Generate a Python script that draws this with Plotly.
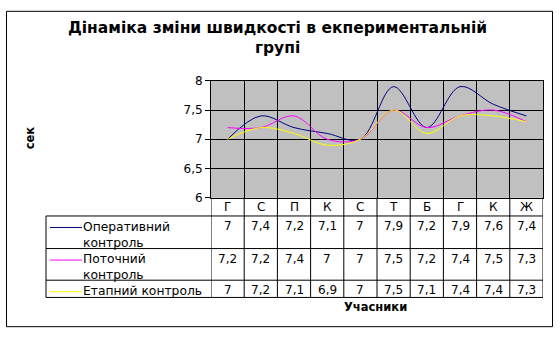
import plotly.graph_objects as go

# ---- data ----
categories = ["Г", "С", "П", "К", "С", "Т", "Б", "Г", "К", "Ж"]
operatyvnyi = [7, 7.4, 7.2, 7.1, 7, 7.9, 7.2, 7.9, 7.6, 7.4]
potochnyi = [7.2, 7.2, 7.4, 7, 7, 7.5, 7.2, 7.4, 7.5, 7.3]
etapnyi = [7, 7.2, 7.1, 6.9, 7, 7.5, 7.1, 7.4, 7.4, 7.3]
series_names = ["Оперативний<br>контроль", "Поточний<br>контроль", "Етапний контроль"]
series_colors = ["#000080", "#FF00FF", "#FFFF00"]
y_tickvals = [6, 6.5, 7, 7.5, 8]
y_ticktext = ["6", "6,5", "7", "7,5", "8"]

W, H = 560, 338
FONT = "DejaVu Sans"


def px(x):
    return x / W


def py(y):
    return 1 - y / H


def fmt(v):
    return ("%g" % v).replace(".", ",")


# plot area pixel geometry
PL, PR, PT, PB = 211, 543, 77, 199
TABLE_L = 46
ROW_LINES = [218, 252, 285, 303]
ROW_TEXT_Y = [228.5, 262.5, 295]
LEGEND_LINE_Y = [230, 264, 297]

fig = go.Figure()
xs = list(range(len(categories)))
all_series = [operatyvnyi, potochnyi, etapnyi]
for name, vals, col in zip(series_names, all_series, series_colors):
    fig.add_trace(go.Scatter(
        x=xs, y=vals, mode="lines", name=name.replace("<br>", " "),
        line=dict(color=col, width=1, shape="spline", smoothing=1),
        showlegend=False, hoverinfo="skip"))

shapes = []
# outer border
shapes.append(dict(type="rect", xref="paper", yref="paper",
                   x0=px(6.5), x1=px(552.5), y0=py(333.5), y1=py(4.5),
                   line=dict(color="black", width=1), fillcolor="rgba(0,0,0,0)",
                   layer="below"))
# vertical lines in table (category boundaries)
for i in range(len(categories) + 1):
    b = i - 0.5
    shapes.append(dict(type="line", xref="x", yref="paper",
                       x0=b, x1=b, y0=py(ROW_LINES[-1]), y1=py(PB),
                       line=dict(color="black", width=1)))
# horizontal table lines
for yl in ROW_LINES:
    shapes.append(dict(type="line", xref="paper", yref="paper",
                       x0=px(TABLE_L), x1=px(PR), y0=py(yl), y1=py(yl),
                       line=dict(color="black", width=1)))
# left table edge
shapes.append(dict(type="line", xref="paper", yref="paper",
                   x0=px(TABLE_L), x1=px(TABLE_L), y0=py(ROW_LINES[0]), y1=py(ROW_LINES[-1]),
                   line=dict(color="black", width=1)))
# legend key lines
for yl, col in zip(LEGEND_LINE_Y, series_colors):
    shapes.append(dict(type="line", xref="paper", yref="paper",
                       x0=px(50), x1=px(82), y0=py(yl), y1=py(yl),
                       line=dict(color=col, width=1)))

ann = []
tf = dict(family=FONT, size=12, color="black")
lf = dict(family=FONT, size=12.3, color="black")
# category labels
for i, c in enumerate(categories):
    ann.append(dict(x=i, y=py(208.5), xref="x", yref="paper", text=c,
                    showarrow=False, font=tf, xanchor="center", yanchor="middle"))
# values
for vals, ty in zip(all_series, ROW_TEXT_Y):
    for i, v in enumerate(vals):
        ann.append(dict(x=i, y=py(ty), xref="x", yref="paper", text=fmt(v),
                        showarrow=False, font=tf, xanchor="center", yanchor="middle"))
# legend labels
for name, ty in zip(series_names, ROW_TEXT_Y):
    ann.append(dict(x=px(81), y=py(ty - 8.5), xref="paper", yref="paper", text=name,
                    showarrow=False, font=lf, xanchor="left", yanchor="top", align="left"))
# title
ann.append(dict(x=px(277), y=py(32), xref="paper", yref="paper",
                text="<b>Дінаміка зміни швидкості в екпериментальній<br>групі</b>",
                showarrow=False, font=dict(family=FONT, size=15.5, color="black"),
                xanchor="center", yanchor="middle", align="center"))
# axis titles
ann.append(dict(x=px(30), y=py(137), xref="paper", yref="paper", text="<b>сек</b>",
                showarrow=False, textangle=-90, font=dict(family=FONT, size=11.5, color="black"),
                xanchor="center", yanchor="middle"))
ann.append(dict(x=px(375), y=py(313), xref="paper", yref="paper", text="<b>Учасники</b>",
                showarrow=False, font=dict(family=FONT, size=11.5, color="black"),
                xanchor="center", yanchor="middle"))

fig.update_layout(
    width=W, height=H, autosize=False,
    margin=dict(l=0, r=0, t=0, b=0),
    paper_bgcolor="white", plot_bgcolor="#C0C0C0",
    shapes=shapes, annotations=ann, showlegend=False,
    xaxis=dict(domain=[px(PL), px(PR)], range=[-0.5, len(categories) - 0.5],
               tickvals=[i - 0.5 for i in range(len(categories) + 1)],
               showticklabels=False, ticks="", showgrid=True, gridcolor="black", gridwidth=1,
               showline=True, linecolor="black", linewidth=1, mirror=True, zeroline=False),
    yaxis=dict(domain=[py(PB), py(PT)], range=[6, 8], tickvals=y_tickvals, ticktext=y_ticktext,
               ticks="outside", ticklen=5, tickcolor="black", tickwidth=1,
               tickfont=dict(family=FONT, size=12, color="black"),
               showgrid=True, gridcolor="black", gridwidth=1,
               showline=True, linecolor="black", linewidth=1, mirror=True, zeroline=False),
)

fig.write_html("out.html")
